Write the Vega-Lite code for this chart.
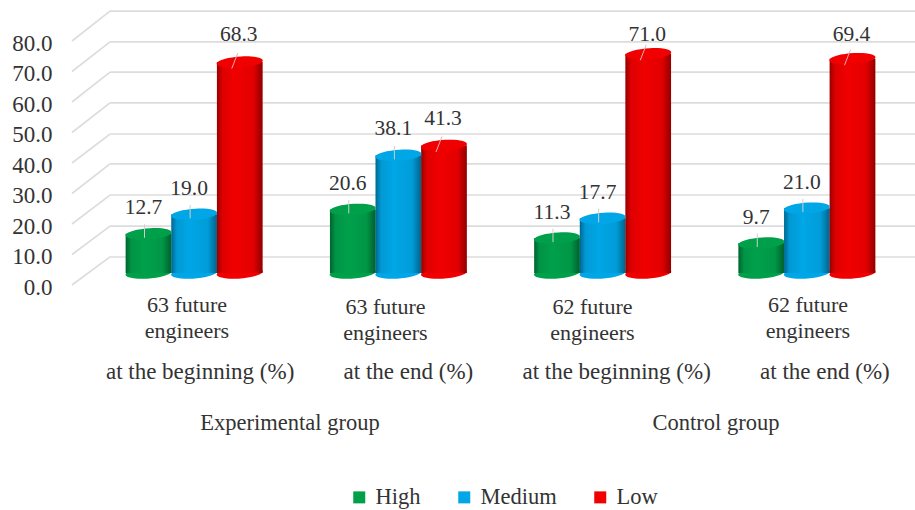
{
  "$schema": "https://vega.github.io/schema/vega-lite/v6.json",
  "width": 915,
  "height": 510,
  "padding": 0,
  "autosize": "none",
  "background": "white",
  "config": {
    "view": {"stroke": null},
    "text": {"font": "Liberation Serif", "fontSize": 22, "fill": "#333333"},
    "legend": {
      "orient": "none",
      "legendX": 348,
      "legendY": 486,
      "direction": "horizontal",
      "columns": 3,
      "columnPadding": 32,
      "symbolType": "square",
      "symbolSize": 144,
      "symbolStrokeWidth": 0,
      "labelFont": "Liberation Serif",
      "labelFontSize": 22.5,
      "labelColor": "#333333",
      "labelOffset": 5,
      "padding": 0
    }
  },
  "datasets": {
    "bars": [
      {"cohort": "Experimental beginning", "level": "High", "value": 12.7},
      {"cohort": "Experimental beginning", "level": "Medium", "value": 19.0},
      {"cohort": "Experimental beginning", "level": "Low", "value": 68.3},
      {"cohort": "Experimental end", "level": "High", "value": 20.6},
      {"cohort": "Experimental end", "level": "Medium", "value": 38.1},
      {"cohort": "Experimental end", "level": "Low", "value": 41.3},
      {"cohort": "Control beginning", "level": "High", "value": 11.3},
      {"cohort": "Control beginning", "level": "Medium", "value": 17.7},
      {"cohort": "Control beginning", "level": "Low", "value": 71.0},
      {"cohort": "Control end", "level": "High", "value": 9.7},
      {"cohort": "Control end", "level": "Medium", "value": 21.0},
      {"cohort": "Control end", "level": "Low", "value": 69.4}
    ],
    "ticks": [
      {"tick": 0, "back": 9.2},
      {"tick": 10, "back": 19.3},
      {"tick": 20, "back": 29.5},
      {"tick": 30, "back": 39.7},
      {"tick": 40, "back": 49.5},
      {"tick": 50, "back": 59.7},
      {"tick": 60, "back": 69.8},
      {"tick": 70, "back": 79.7},
      {"tick": 80, "back": 89.8}
    ],
    "headcounts": [
      {"cohort": "Experimental beginning", "row": "headcount", "label": "63 future\nengineers"},
      {"cohort": "Experimental end", "row": "headcount", "label": "63 future\nengineers"},
      {"cohort": "Control beginning", "row": "headcount", "label": "62 future\nengineers"},
      {"cohort": "Control end", "row": "headcount", "label": "62 future\nengineers"}
    ],
    "stages": [
      {"cohort": "Experimental beginning", "row": "stage", "label": "at the beginning (%)"},
      {"cohort": "Experimental end", "row": "stage", "label": "at the end (%)"},
      {"cohort": "Control beginning", "row": "stage", "label": "at the beginning (%)"},
      {"cohort": "Control end", "row": "stage", "label": "at the end (%)"}
    ],
    "groups": [
      {"group": "Experimental", "row": "group", "label": "Experimental group"},
      {"group": "Control", "row": "group", "label": "Control group"}
    ]
  },
  "resolve": {"scale": {"x": "independent", "y": "independent"}},
  "layer": [
    {
      "description": "Side wall running from the value axis to the back wall",
      "data": {"name": "ticks"},
      "mark": {"type": "rule", "color": "#dcdcdc", "strokeWidth": 1.6},
      "encoding": {
        "x": {"datum": 0, "type": "quantitative", "scale": {"domain": [0, 1], "range": [72, 110]}, "axis": null},
        "x2": {"datum": 1},
        "y": {
          "field": "tick",
          "type": "quantitative",
          "scale": {"domain": [0, 80], "range": [285, 41]},
          "axis": {
            "orient": "left",
            "offset": -52,
            "values": [0, 10, 20, 30, 40, 50, 60, 70, 80],
            "format": ".1f",
            "title": null,
            "domain": false,
            "ticks": false,
            "grid": false,
            "labelPadding": 0,
            "labelOffset": 2,
            "labelFont": "Liberation Serif",
            "labelFontSize": 23,
            "labelColor": "#333333"
          }
        },
        "y2": {"field": "back"}
      }
    },
    {
      "description": "Back wall gridlines",
      "data": {"name": "ticks"},
      "mark": {"type": "rule", "color": "#dcdcdc", "strokeWidth": 1.6},
      "encoding": {
        "x": {"datum": 1, "type": "quantitative", "scale": {"domain": [0, 1], "range": [72, 110]}, "axis": null},
        "x2": {"datum": 22.2},
        "y": {"field": "back", "type": "quantitative", "scale": {"domain": [0, 80], "range": [285, 41]}, "axis": null}
      }
    },
    {
      "description": "Cylinder floors",
      "data": {"name": "bars"},
      "mark": {"type": "point", "filled": true, "opacity": 1, "size": 2116, "shape": "M-1,0.05 A1,0.24,-4,1,1,1,-0.05 A1,0.24,-4,1,1,-1,0.05 Z"},
      "encoding": {
        "x": {"field": "cohort", "type": "nominal", "sort": null, "axis": null, "scale": {"range": [92, 909], "paddingInner": 0.33, "paddingOuter": 0.165}},
        "xOffset": {"field": "level", "type": "nominal", "sort": ["High", "Medium", "Low"]},
        "y": {"datum": 0, "type": "quantitative", "scale": {"domain": [0, 80], "range": [273, 26]}, "axis": null},
        "color": {"field": "level", "type": "nominal", "title": null, "sort": ["High", "Medium", "Low"], "scale": {"domain": ["High", "Medium", "Low"], "range": ["#00a04b", "#00a6e6", "#f00000"]}}
      }
    },
    {
      "description": "Cylinder bodies",
      "data": {"name": "bars"},
      "mark": {"type": "bar"},
      "encoding": {
        "x": {"field": "cohort", "type": "nominal", "sort": null, "axis": null, "scale": {"range": [92, 909], "paddingInner": 0.33, "paddingOuter": 0.165}},
        "xOffset": {"field": "level", "type": "nominal", "sort": ["High", "Medium", "Low"]},
        "y": {"field": "value", "type": "quantitative", "scale": {"domain": [0, 80], "range": [273, 26]}, "axis": null},
        "color": {"field": "level", "type": "nominal", "title": null, "sort": ["High", "Medium", "Low"], "scale": {"domain": ["High", "Medium", "Low"], "range": ["#00a04b", "#00a6e6", "#f00000"]}}
      }
    },
    {
      "description": "Curved shading across each cylinder",
      "data": {"name": "bars"},
      "mark": {
        "type": "bar",
        "color": {
          "gradient": "linear",
          "x1": 0, "x2": 1, "y1": 0, "y2": 0,
          "stops": [
            {"offset": 0, "color": "rgba(0,0,0,0.38)"},
            {"offset": 0.12, "color": "rgba(0,0,0,0.08)"},
            {"offset": 0.4, "color": "rgba(0,0,0,0)"},
            {"offset": 0.8, "color": "rgba(0,0,0,0.06)"},
            {"offset": 1, "color": "rgba(0,0,0,0.4)"}
          ]
        }
      },
      "encoding": {
        "x": {"field": "cohort", "type": "nominal", "sort": null, "axis": null, "scale": {"range": [92, 909], "paddingInner": 0.33, "paddingOuter": 0.165}},
        "xOffset": {"field": "level", "type": "nominal", "sort": ["High", "Medium", "Low"]},
        "y": {"field": "value", "type": "quantitative", "scale": {"domain": [0, 80], "range": [273, 26]}, "axis": null}
      }
    },
    {
      "description": "Cylinder lids",
      "data": {"name": "bars"},
      "mark": {"type": "point", "filled": true, "opacity": 1, "size": 2116, "shape": "M-1,0.05 A1,0.24,-4,1,1,1,-0.05 A1,0.24,-4,1,1,-1,0.05 Z"},
      "encoding": {
        "x": {"field": "cohort", "type": "nominal", "sort": null, "axis": null, "scale": {"range": [92, 909], "paddingInner": 0.33, "paddingOuter": 0.165}},
        "xOffset": {"field": "level", "type": "nominal", "sort": ["High", "Medium", "Low"]},
        "y": {"field": "value", "type": "quantitative", "scale": {"domain": [0, 80], "range": [273, 26]}, "axis": null},
        "color": {"field": "level", "type": "nominal", "title": null, "sort": ["High", "Medium", "Low"], "scale": {"domain": ["High", "Medium", "Low"], "range": ["#008c42", "#0093cf", "#d80000"]}}
      }
    },
    {
      "description": "Leader lines for the High and Medium labels",
      "data": {"name": "bars"},
      "transform": [{"filter": "datum.level !== 'Low'"}],
      "mark": {"type": "point", "filled": false, "opacity": 1, "size": 400, "strokeWidth": 1, "color": "#cfcfcf", "shape": "M-0.4,-0.95 L-0.4,0.4"},
      "encoding": {
        "x": {"field": "cohort", "type": "nominal", "sort": null, "axis": null, "scale": {"range": [92, 909], "paddingInner": 0.33, "paddingOuter": 0.165}},
        "xOffset": {"field": "level", "type": "nominal", "sort": ["High", "Medium", "Low"], "scale": {"domain": ["High", "Medium", "Low"]}},
        "y": {"field": "value", "type": "quantitative", "scale": {"domain": [0, 80], "range": [273, 26]}, "axis": null}
      }
    },
    {
      "description": "Leader lines for the Low labels",
      "data": {"name": "bars"},
      "transform": [{"filter": "datum.level === 'Low'"}],
      "mark": {"type": "point", "filled": false, "opacity": 1, "size": 400, "strokeWidth": 1, "color": "#e6b0b0", "shape": "M-0.2,-0.9 L-0.8,0.65"},
      "encoding": {
        "x": {"field": "cohort", "type": "nominal", "sort": null, "axis": null, "scale": {"range": [92, 909], "paddingInner": 0.33, "paddingOuter": 0.165}},
        "xOffset": {"field": "level", "type": "nominal", "sort": ["High", "Medium", "Low"], "scale": {"domain": ["High", "Medium", "Low"]}},
        "y": {"field": "value", "type": "quantitative", "scale": {"domain": [0, 80], "range": [273, 26]}, "axis": null}
      }
    },
    {
      "description": "Value labels for High and Medium",
      "data": {"name": "bars"},
      "transform": [{"filter": "datum.level !== 'Low'"}],
      "mark": {"type": "text", "fontSize": 21.5, "dx": -5},
      "encoding": {
        "x": {"field": "cohort", "type": "nominal", "sort": null, "axis": null, "scale": {"range": [92, 909], "paddingInner": 0.33, "paddingOuter": 0.165}},
        "xOffset": {"field": "level", "type": "nominal", "sort": ["High", "Medium", "Low"], "scale": {"domain": ["High", "Medium", "Low"]}},
        "y": {"field": "value", "type": "quantitative", "scale": {"domain": [0, 68.3], "range": [248, 35], "clamp": true}, "axis": null},
        "text": {"field": "value", "type": "quantitative", "format": ".1f"}
      }
    },
    {
      "description": "Value labels for Low, held below the top of the chart by clamping",
      "data": {"name": "bars"},
      "transform": [{"filter": "datum.level === 'Low'"}],
      "mark": {"type": "text", "fontSize": 21.5, "dx": -1},
      "encoding": {
        "x": {"field": "cohort", "type": "nominal", "sort": null, "axis": null, "scale": {"range": [92, 909], "paddingInner": 0.33, "paddingOuter": 0.165}},
        "xOffset": {"field": "level", "type": "nominal", "sort": ["High", "Medium", "Low"], "scale": {"domain": ["High", "Medium", "Low"]}},
        "y": {"field": "value", "type": "quantitative", "scale": {"domain": [0, 68.3], "range": [248, 35], "clamp": true}, "axis": null},
        "text": {"field": "value", "type": "quantitative", "format": ".1f"}
      }
    },
    {
      "description": "Head counts under the first and last clusters",
      "data": {"name": "headcounts"},
      "transform": [{"filter": "datum.cohort === 'Experimental beginning' || datum.cohort === 'Control end'"}],
      "mark": {"type": "text", "lineBreak": "\n", "lineHeight": 26, "baseline": "middle"},
      "encoding": {
        "x": {"field": "cohort", "type": "nominal", "axis": null, "scale": {"type": "band", "domain": ["Experimental beginning", "Experimental end", "Control beginning", "Control end"], "range": [83.5, 911.5], "padding": 0}},
        "y": {"field": "row", "type": "nominal", "axis": null, "scale": {"type": "point", "domain": ["headcount", "stage", "group"], "range": [305, 410], "padding": 0}},
        "text": {"field": "label"}
      }
    },
    {
      "description": "Head counts under the middle clusters",
      "data": {"name": "headcounts"},
      "transform": [{"filter": "datum.cohort === 'Experimental end' || datum.cohort === 'Control beginning'"}],
      "mark": {"type": "text", "lineBreak": "\n", "lineHeight": 26, "baseline": "middle", "dx": -8.5},
      "encoding": {
        "x": {"field": "cohort", "type": "nominal", "axis": null, "scale": {"type": "band", "domain": ["Experimental beginning", "Experimental end", "Control beginning", "Control end"], "range": [83.5, 911.5], "padding": 0}},
        "y": {"field": "row", "type": "nominal", "axis": null, "scale": {"type": "point", "domain": ["headcount", "stage", "group"], "range": [307, 412], "padding": 0}},
        "text": {"field": "label"}
      }
    },
    {
      "description": "Measurement stage under each cluster",
      "data": {"name": "stages"},
      "mark": {"type": "text", "baseline": "middle", "fontSize": 23},
      "encoding": {
        "x": {"field": "cohort", "type": "nominal", "sort": null, "axis": null, "scale": {"type": "band", "range": [96, 929], "padding": 0}},
        "y": {"field": "row", "type": "nominal", "axis": null, "scale": {"type": "point", "domain": ["headcount", "stage", "group"], "range": [321, 423], "padding": 0}},
        "text": {"field": "label"}
      }
    },
    {
      "description": "Group names",
      "data": {"name": "groups"},
      "mark": {"type": "text", "baseline": "middle", "fontSize": 22.5},
      "encoding": {
        "x": {"field": "group", "type": "nominal", "sort": null, "axis": null, "scale": {"type": "band", "range": [77, 929], "padding": 0}},
        "y": {"field": "row", "type": "nominal", "axis": null, "scale": {"type": "point", "domain": ["headcount", "stage", "group"], "range": [318, 423], "padding": 0}},
        "text": {"field": "label"}
      }
    }
  ]
}
